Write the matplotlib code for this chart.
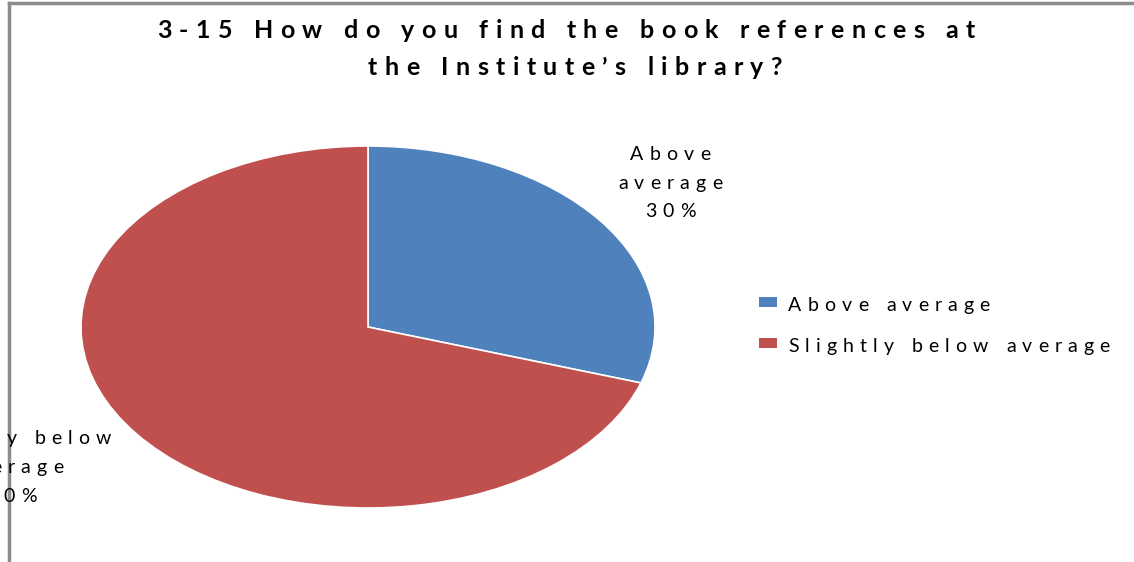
import matplotlib.pyplot as plt
from matplotlib.lines import Line2D
from matplotlib.patches import Rectangle
from matplotlib.font_manager import FontProperties, findfont, get_font

plt.rcParams['font.family'] = ['Lato', 'DejaVu Sans']

# survey answers
categories = ['Above average', 'Slightly below average']
shares = [30, 70]
colors = ['#4F81BD', '#C0504D']
title_lines = ['3-15 How do you find the book references at',
               'the Institute\u2019s library?']
label_lines = [['Above', 'average', '%d%%' % shares[0]],
               ['Slightly below', 'average', '%d%%' % shares[1]]]

W, H = 1134, 562
DPI = 100
SPACE = 0.9   # word space, as a fraction of the letter tracking


def advances(s, size, weight, track=0):
    # glyph advance widths in pixels; a space is SPACE * track wide
    font = get_font(findfont(FontProperties(family='Lato', weight=weight)))
    font.set_size(size, DPI)
    return [SPACE * track if c == ' ' else font.load_char(ord(c)).linearHoriAdvance / 65536
            for c in s]


def tracking_for(s, size, weight, width):
    # solve width = sum(glyphs) + nsp*SPACE*t + (n-1)*t for t
    glyphs = sum(advances(s, size, weight))
    nsp = s.count(' ')
    return (width - glyphs) / (len(s) - 1 + nsp * SPACE)


def tracked(fig, s, x, y, size, weight, track, ha='center', color='black'):
    # x, y in pixels from top-left; y is the baseline
    adv = advances(s, size, weight, track)
    total = sum(adv) + track * (len(s) - 1)
    x0 = x - total / 2 if ha == 'center' else x
    for c, a in zip(s, adv):
        if c != ' ':
            fig.text(x0 / W, 1 - y / H, c, ha='left', va='baseline',
                     fontsize=size, fontweight=weight, color=color)
        x0 += a + track


fig = plt.figure(figsize=(W / DPI, H / DPI), dpi=DPI)
ax = fig.add_axes([0, 0, 1, 1])

# elliptical pie: centre and radii in pixels
cx, cy, rx, ry = 368, 327, 287, 181
wedges, _ = ax.pie(shares, colors=colors, startangle=90, counterclock=False,
                   radius=1, wedgeprops=dict(edgecolor='white', linewidth=1.2))
ax.set_aspect('auto')
ax.set_xlim(-cx / rx, (W - cx) / rx)
ax.set_ylim(-(H - cy) / ry, cy / ry)
ax.axis('off')

# title
tsize = 18
ttrack = tracking_for(title_lines[0], tsize, 'bold', 818)
tracked(fig, title_lines[0], 566, 38, tsize, 'bold', ttrack)
tracked(fig, title_lines[1], 575, 75, tsize, 'bold', ttrack)

# data labels
lsize = 14
ltrack = tracking_for(categories[1], lsize, 'normal', 322)
for line, yb in zip(label_lines[0], [160, 189, 217]):
    tracked(fig, line, 670, yb, lsize, 'normal', ltrack)
for line, yb in zip(label_lines[1], [444, 473, 502]):
    tracked(fig, line, 11, yb, lsize, 'normal', ltrack)

# legend
for cat, col, yb in zip(categories, colors, [311, 352]):
    fig.add_artist(Rectangle((759 / W, 1 - (yb - 4) / H), 18 / W, 10 / H,
                             facecolor=col, edgecolor='none'))
    tracked(fig, cat, 788, yb, lsize, 'normal', ltrack, ha='left')

# chart area border (top and left edges)
fig.add_artist(Line2D([9 / W, 1], [1 - 3 / H, 1 - 3 / H], color='#8c8c8c', lw=2.5))
fig.add_artist(Line2D([9 / W, 9 / W], [0, 1 - 3 / H], color='#8c8c8c', lw=2.5))

fig.savefig('out.png', dpi=DPI)
